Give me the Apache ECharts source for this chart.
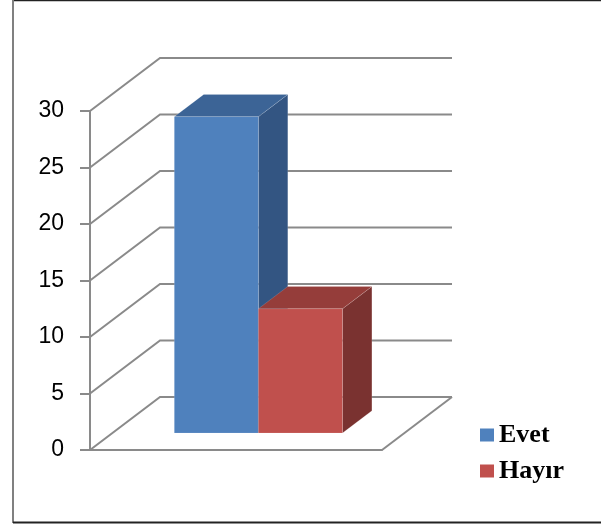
<!DOCTYPE html>
<html><head><meta charset="utf-8">
<script src="https://cdn.jsdelivr.net/npm/echarts@6/dist/echarts.min.js"></script>
<style>html,body{margin:0;padding:0;background:#fff}#c{width:601px;height:524px}</style>
</head><body><div id="c"></div>
<script>
var categories = [''];
var seriesNames = ['Evet', 'Hayır'];
var evetValues = [28];
var hayirValues = [11];
var yTicks = [0, 5, 10, 15, 20, 25, 30];

var frontColors = ['#4F81BD', '#C0504D'];
var topColors = ['#3C6496', '#953D3A'];
var sideColors = ['#335582', '#7A3230'];
var lineColor = '#8A8A8A';
var DX = 70, DY = 53;     // full depth offset
var T1 = 0.32, T2 = 0.74; // bar front/back depth

var chart = echarts.init(document.getElementById('c'));

function wallsRender(params, api) {
  var cs = params.coordSys;
  var v = api.value(0);
  var y = api.coord([0, v])[1];
  var left = cs.x, right = cs.x + cs.width;
  var style = { stroke: lineColor, lineWidth: 2, fill: null };
  var children = [{
    type: 'polyline',
    shape: { points: [[left, y], [left + DX, y - DY], [right + DX, y - DY]] },
    style: style
  }];
  if (v === 0) {
    children.push({ type: 'line', shape: { x1: right, y1: y, x2: right + DX, y2: y - DY }, style: style });
  }
  return { type: 'group', children: children };
}

function barRender(idx) {
  return function (params, api) {
    var cs = params.coordSys;
    var v = api.value(1);
    var p = api.coord([0, v]);
    var y0 = api.coord([0, 0])[1];
    var yT = p[1];
    var W = cs.width * 0.288;
    var xL = idx === 0 ? p[0] - W : p[0];
    var xR = xL + W;
    var a1 = T1 * DX, b1 = T1 * DY, a2 = T2 * DX, b2 = T2 * DY;
    var edge = 'rgba(255,255,255,0.18)';
    return {
      type: 'group',
      children: [
        { type: 'polygon', shape: { points: [[xR + a1, yT - b1], [xR + a2, yT - b2], [xR + a2, y0 - b2], [xR + a1, y0 - b1]] },
          style: { fill: sideColors[idx], stroke: edge, lineWidth: 0.8 } },
        { type: 'polygon', shape: { points: [[xL + a1, yT - b1], [xR + a1, yT - b1], [xR + a2, yT - b2], [xL + a2, yT - b2]] },
          style: { fill: topColors[idx], stroke: edge, lineWidth: 0.8 } },
        { type: 'rect', shape: { x: xL + a1, y: yT - b1, width: W, height: y0 - yT },
          style: { fill: frontColors[idx], stroke: edge, lineWidth: 0.8 } }
      ]
    };
  };
}

var option = {
  animation: false,
  backgroundColor: '#fff',
  grid: { left: 90, right: 219, top: 111, bottom: 74 },
  xAxis: {
    type: 'category', data: categories,
    axisLine: { show: true, lineStyle: { color: lineColor, width: 2 } },
    axisTick: { show: false }, axisLabel: { show: false }, splitLine: { show: false }
  },
  yAxis: {
    type: 'value', min: 0, max: 30, interval: 5,
    axisLine: { show: true, lineStyle: { color: lineColor, width: 2 } },
    axisTick: { show: true, length: 10, lineStyle: { color: lineColor, width: 2 } },
    axisLabel: { color: '#000', fontSize: 23, fontFamily: 'Liberation Sans', margin: 26 },
    splitLine: { show: false }
  },
  legend: {
    orient: 'vertical', left: 480, top: 422, padding: 0,
    itemWidth: 14, itemHeight: 13, itemGap: 10,
    icon: 'rect',
    data: seriesNames,
    textStyle: { color: '#000', fontSize: 26, fontWeight: 'bold', fontFamily: 'Liberation Serif', lineHeight: 26, padding: [0, 0, 0, 0] }
  },
  graphic: [
    { type: 'line', shape: { x1: 13, y1: 0.5, x2: 601, y2: 0.5 }, style: { stroke: '#222', lineWidth: 1.5 } },
    { type: 'line', shape: { x1: 13, y1: 0, x2: 13, y2: 523 }, style: { stroke: '#808080', lineWidth: 2 } },
    { type: 'line', shape: { x1: 13, y1: 522.5, x2: 601, y2: 522.5 }, style: { stroke: '#222', lineWidth: 2 } }
  ],
  series: [
    { type: 'custom', name: '_walls', renderItem: wallsRender, data: yTicks.map(function (t) { return [t]; }),
      encode: { y: 0 }, z: 1, silent: true, legendHoverLink: false },
    { type: 'custom', name: seriesNames[0], renderItem: barRender(0), data: [[0, evetValues[0]]],
      itemStyle: { color: frontColors[0] }, encode: { x: 0, y: 1 }, z: 2 },
    { type: 'custom', name: seriesNames[1], renderItem: barRender(1), data: [[0, hayirValues[0]]],
      itemStyle: { color: frontColors[1] }, encode: { x: 0, y: 1 }, z: 3 }
  ]
};
chart.setOption(option);
</script></body></html>
